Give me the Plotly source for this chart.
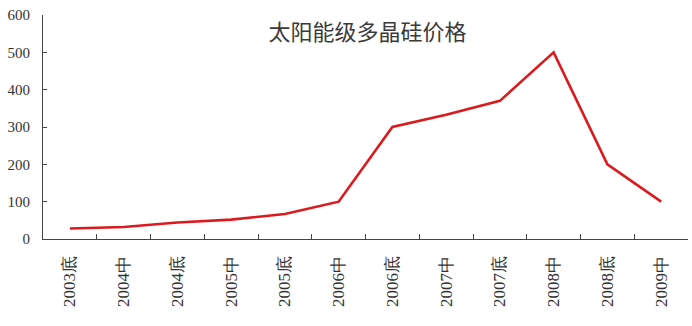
import plotly.graph_objects as go

categories = ["2003底", "2004中", "2004底", "2005中", "2005底", "2006中",
              "2006底", "2007中", "2007底", "2008中", "2008底", "2009中"]
prices = [28, 32, 44, 52, 67, 100, 300, 333, 370, 500, 200, 100]
y_ticks = [0, 100, 200, 300, 400, 500, 600]
title_text = "太阳能级多晶硅价格"

fig = go.Figure()
fig.add_trace(go.Scatter(
    x=categories, y=prices, mode="lines",
    line=dict(color="#DC1A1E", width=2.6),
    hoverinfo="x+y",
))

font_fam = "Times New Roman"

fig.update_layout(
    width=692, height=326,
    margin=dict(l=43, r=4, t=14.5, b=86.5),
    paper_bgcolor="white", plot_bgcolor="white",
    showlegend=False,
    title=dict(text=title_text, x=0.531, xanchor="center",
               y=1 - 32 / 326, yanchor="middle", yref="container",
               font=dict(family="Noto Sans CJK SC", size=22, color="#3a3a3a")),
    xaxis=dict(
        type="category", range=[-0.5, 11.5],
        showline=True, linecolor="#444444", linewidth=1.2,
        ticks="inside", ticklen=5, tickcolor="#444444", tickwidth=1,
        tickson="boundaries",
        tickangle=-90, showgrid=False, zeroline=False,
        ticklabelstandoff=9,
        tickfont=dict(family=font_fam, size=17, color="#333333"),
        fixedrange=True,
    ),
    yaxis=dict(
        range=[0, 600], tickvals=y_ticks,
        showline=True, linecolor="#444444", linewidth=1.2,
        ticks="inside", ticklen=4, tickcolor="#444444", tickwidth=1,
        showgrid=False, zeroline=False,
        ticklabelstandoff=9,
        tickfont=dict(family=font_fam, size=15, color="#333333"),
        fixedrange=True,
    ),
)

fig.write_html("out.html")
